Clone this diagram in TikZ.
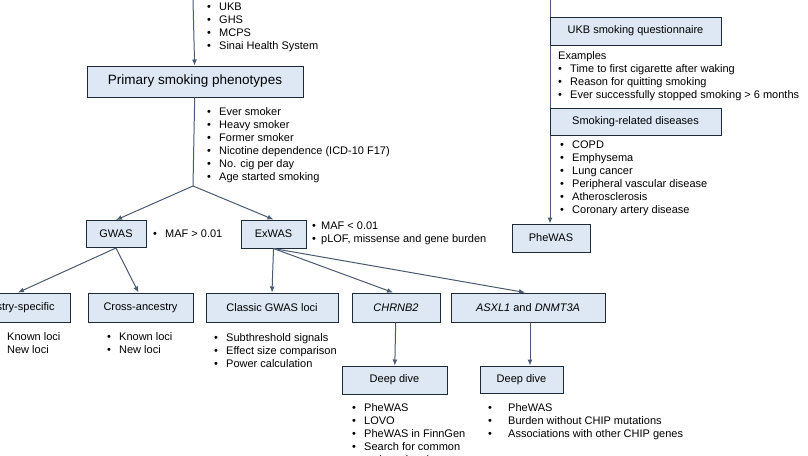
\documentclass[tikz,border=0pt]{standalone}
\usepackage{fontspec}
\setmainfont{Liberation Sans}
\usetikzlibrary{arrows.meta,positioning}
\definecolor{boxfill}{HTML}{DDE8F4}
\definecolor{boxline}{HTML}{1E2A36}
\definecolor{arrowc}{HTML}{4A5A72}
\newcommand{\itm}{\makebox[12pt][l]{\textbullet}}

\begin{document}
\begin{tikzpicture}[x=1pt,y=-1pt,
    box/.style={draw=boxline,fill=boxfill,line width=1pt,inner sep=2pt,
      minimum height=28pt,font=\fontsize{11}{13}\selectfont},
    list/.style={anchor=north west,inner sep=0pt,align=left,
      font=\fontsize{11}{13}\selectfont},
    arr/.style={draw=arrowc,line width=1pt,-{Latex[length=6pt,width=5pt]}}]
  \useasboundingbox (0,0) rectangle (808,455);
  % top coordinates
  \coordinate (t_l) at (193,0);
  \coordinate (t_r) at (550,0);
  \coordinate (split) at (193,186);
  % boxes
  \node[box,minimum width=216pt,minimum height=31pt,font=\fontsize{13.5}{15}\selectfont] (prim) at (195,81.5) {Primary smoking phenotypes};
  \node[box,minimum width=60pt,minimum height=27pt] (gwas) at (116,234) {GWAS};
  \node[box,minimum width=65pt] (exwas) at (273.5,234) {ExWAS};
  \node[box,minimum width=78pt] (phewas) at (551,238) {PheWAS};
  \node[box,minimum width=114pt,minimum height=29pt] (anc) at (13,307.5) {Ancestry-specific};
  \node[box,minimum width=105pt,minimum height=29pt] (cross) at (140.5,307.5) {Cross-ancestry};
  \node[box,minimum width=132pt,minimum height=29pt] (classic) at (272,307.5) {Classic GWAS loci};
  \node[box,minimum width=88pt,minimum height=29pt] (chrnb) at (396,307.5) {\textit{CHRNB2}};
  \node[box,minimum width=154pt,minimum height=29pt] (asxl) at (528,307.5) {\textit{ASXL1} and \textit{DNMT3A}};
  \node[box,minimum width=105pt] (dd_a) at (394.5,380) {Deep dive};
  \node[box,minimum width=83pt,minimum height=27pt] (dd_b) at (521.5,379.5) {Deep dive};
  % connectors
  \draw[arr] (t_l) -- (prim);
  \draw[arrowc,line width=1pt] (prim) -- (split);
  \draw[arr] (split) -- (gwas.north);
  \draw[arr] (split) -- (exwas.north);
  \draw[arr] (t_r) -- (t_r |- phewas.north);
  \draw[arr] (gwas.south) -- ([xshift=5pt]anc.north);
  \draw[arr] (gwas.south) -- ([xshift=-2pt]cross.north);
  \draw[arr] (exwas.south) -- (classic.north);
  \draw[arr] (exwas.south) -- ([xshift=-3pt]chrnb.north);
  \draw[arr] (exwas.south) -- ([xshift=-3pt]asxl.north);
  \draw[arr] (chrnb) -- (dd_a);
  \draw[arr] ([xshift=2pt]asxl.south) -- ([xshift=2pt]asxl.south |- dd_b.north);
  % right column boxes over the line
  \node[box,minimum width=171pt] (ukb) at (635.5,31) {UKB smoking questionnaire};
  \node[box,minimum width=171pt,minimum height=27pt] (srd) at (635.5,121.5) {Smoking-related diseases};
  % lists
  \node[list] (l_cohort) at (207,3) {\itm UKB\\\itm GHS\\\itm MCPS\\\itm Sinai Health System};
  \node[list] (l_prim) at (207,107) {\itm Ever smoker\\\itm Heavy smoker\\\itm Former smoker\\\itm Nicotine dependence (ICD-10 F17)\\\itm No. cig per day\\\itm Age started smoking};
  \node[list] (l_ukb) at (558,51) {Examples\\\itm Time to first cigarette after waking\\\itm Reason for quitting smoking\\\itm Ever successfully stopped smoking > 6 months};
  \node[list] (l_srd) at (560,141) {\itm COPD\\\itm Emphysema\\\itm Lung cancer\\\itm Peripheral vascular disease\\\itm Atherosclerosis\\\itm Coronary artery disease};
  \node[list] (l_gwas) at (153,230) {\itm MAF > 0.01};
  \node[list] (l_exwas) at (312,222) {\makebox[9pt][l]{\textbullet}MAF < 0.01\\\makebox[9pt][l]{\textbullet}pLOF, missense and gene burden};
  \node[list] (l_anc) at (-5,332) {\itm Known loci\\\itm New loci};
  \node[list] (l_cross) at (107,332) {\itm Known loci\\\itm New loci};
  \node[list] (l_classic) at (214,333) {\itm Subthreshold signals\\\itm Effect size comparison\\\itm Power calculation};
  \node[list] (l_dd_a) at (352,403) {\itm PheWAS\\\itm LOVO\\\itm PheWAS in FinnGen\\\itm Search for common\\\itm variant signals};
  \node[list] (l_dd_b) at (488,403) {\makebox[20pt][l]{\textbullet}PheWAS\\\makebox[20pt][l]{\textbullet}Burden without CHIP mutations\\\makebox[20pt][l]{\textbullet}Associations with other CHIP genes};
\end{tikzpicture}
\end{document}
